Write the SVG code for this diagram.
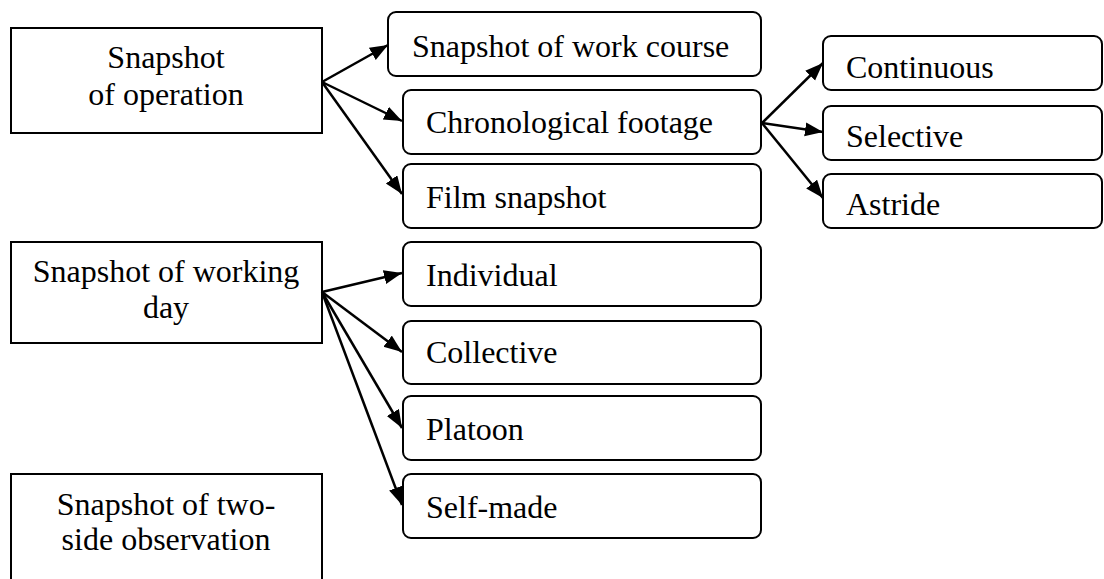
<svg xmlns="http://www.w3.org/2000/svg" width="1104" height="579" viewBox="0 0 1104 579">
<style>
.box{fill:#fff;stroke:#000;stroke-width:2}
.rbox{fill:#fff;stroke:#000;stroke-width:2}
text{font-family:"Liberation Serif","Times New Roman",serif;font-size:32px;fill:#000}
.c{text-anchor:middle}
.conn line{stroke:#000;stroke-width:2.5;marker-end:url(#ah)}
</style>
<defs>
<marker id="ah" markerUnits="userSpaceOnUse" markerWidth="20" markerHeight="16" refX="18" refY="7" orient="auto">
<path d="M0,0 L18,7 L0,14 Z" fill="#000"/>
</marker>
</defs>
<rect width="1104" height="579" fill="#fff"/>
<g id="n-operation"><rect class="box" x="11" y="28" width="311" height="105"/><text class="c" x="166" y="68">Snapshot</text><text class="c" x="166" y="105">of operation</text></g>
<g id="n-workingday"><rect class="box" x="11" y="242" width="311" height="101"/><text class="c" x="166" y="282">Snapshot of working</text><text class="c" x="166" y="318">day</text></g>
<g id="n-twoside"><path class="box" d="M11,590 V474 H322 V590"/><text class="c" x="166" y="515">Snapshot of two-</text><text class="c" x="166" y="550">side observation</text></g>
<g id="n-workcourse"><rect class="rbox" x="388" y="12" width="373" height="64" rx="8"/><text x="412" y="57">Snapshot of work course</text></g>
<g id="n-chrono"><rect class="rbox" x="403" y="90" width="358" height="64" rx="8"/><text x="426" y="133">Chronological footage</text></g>
<g id="n-film"><rect class="rbox" x="403" y="164" width="358" height="64" rx="8"/><text x="426" y="208">Film snapshot</text></g>
<g id="n-individual"><rect class="rbox" x="403" y="242" width="358" height="64" rx="8"/><text x="426" y="286">Individual</text></g>
<g id="n-collective"><rect class="rbox" x="403" y="321" width="358" height="63" rx="8"/><text x="426" y="363">Collective</text></g>
<g id="n-platoon"><rect class="rbox" x="403" y="396" width="358" height="64" rx="8"/><text x="426" y="440">Platoon</text></g>
<g id="n-selfmade"><rect class="rbox" x="403" y="474" width="358" height="64" rx="8"/><text x="426" y="518">Self-made</text></g>
<g id="n-continuous"><rect class="rbox" x="823" y="36" width="279" height="54" rx="8"/><text x="846" y="78">Continuous</text></g>
<g id="n-selective"><rect class="rbox" x="823" y="106" width="279" height="54" rx="8"/><text x="846" y="147">Selective</text></g>
<g id="n-astride"><rect class="rbox" x="823" y="174" width="279" height="54" rx="8"/><text x="846" y="215">Astride</text></g>
<g id="connectors" class="conn">
<line x1="322" y1="82" x2="388" y2="45"/>
<line x1="322" y1="82" x2="402" y2="121"/>
<line x1="322" y1="82" x2="402" y2="194"/>
<line x1="762" y1="123" x2="823" y2="63"/>
<line x1="762" y1="123" x2="823" y2="132"/>
<line x1="762" y1="123" x2="823" y2="198"/>
<line x1="322" y1="292" x2="402" y2="273"/>
<line x1="322" y1="292" x2="402" y2="352"/>
<line x1="322" y1="292" x2="402" y2="428"/>
<line x1="322" y1="292" x2="402" y2="505"/>
</g>
</svg>
